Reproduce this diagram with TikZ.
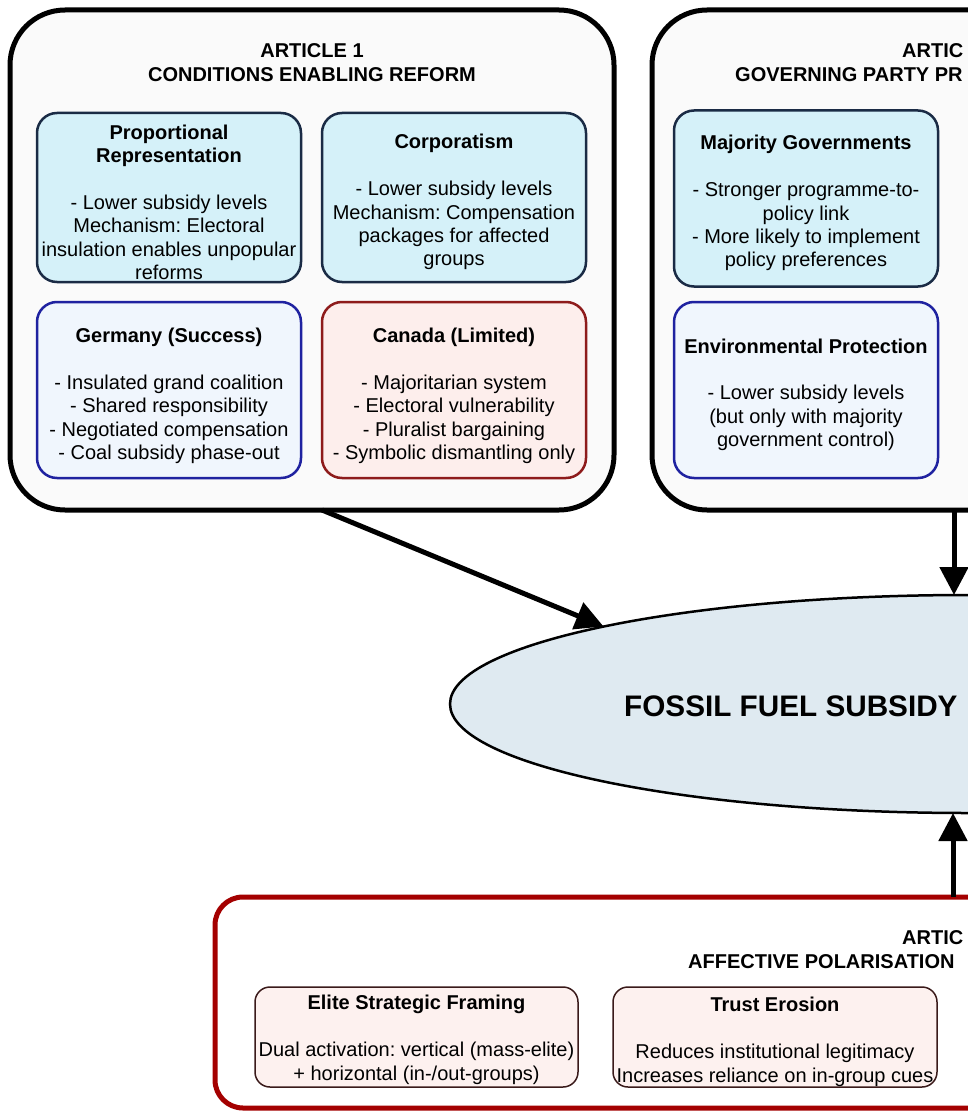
\documentclass[tikz,border=0pt]{standalone}
\usepackage{fontspec}
\setmainfont{Liberation Sans}
\usetikzlibrary{arrows.meta,shapes.geometric}

\definecolor{outerfill}{HTML}{FAFAFA}
\definecolor{cyanfill}{HTML}{D5F1F9}
\definecolor{navy}{HTML}{1A2B45}
\definecolor{bluefill}{HTML}{F0F6FD}
\definecolor{blueline}{HTML}{1F22A0}
\definecolor{redfill}{HTML}{FDEEEC}
\definecolor{redline}{HTML}{8E1B1B}
\definecolor{ellfill}{HTML}{DFEAF1}
\definecolor{artred}{HTML}{A40000}
\definecolor{pinkfill}{HTML}{FDF1EF}
\definecolor{pinkline}{HTML}{3A1A1A}
\newcommand\tstrut{\rule{0pt}{24pt}}
\frenchspacing

\begin{document}
\begin{tikzpicture}[x=1pt,y=-1pt,
  body/.style={font=\frenchspacing\fontsize{20}{23.4}\selectfont, align=center},
  ttl/.style={font=\bfseries\fontsize{20}{24}\selectfont, align=center, inner sep=0pt},
  outerbox/.style={draw=black, line width=5pt, fill=outerfill, rounded corners=55pt, inner sep=0pt, outer sep=0pt},
  inbox/.style={body, line width=2.5pt, rounded corners=20pt, minimum width=264pt, inner sep=0pt, outer sep=0pt},
  cbox/.style={inbox, draw=navy, fill=cyanfill},
  bbox/.style={inbox, draw=blueline, fill=bluefill},
  rbox/.style={inbox, draw=redline, fill=redfill},
  pbox/.style={body, draw=pinkline, fill=pinkfill, line width=1.5pt, rounded corners=15pt, minimum height=100pt, inner sep=0pt, outer sep=0pt},
  arr/.style={line width=5pt, -{Triangle[length=28pt,width=28pt]}}
]
\useasboundingbox (0,0) rectangle (968,1113);
\clip (0,0) rectangle (968,1113);
\fill[white] (0,0) rectangle (968,1113);

% Article 1
\node[outerbox, minimum width=604pt, minimum height=500pt] (a1) at (312,260) {};
\node[ttl] (a1t) at (312,63) {ARTICLE 1\\CONDITIONS ENABLING REFORM};
\node[cbox, minimum height=169pt] (pr) at (169,197.5) {\tstrut\textbf{Proportional}\\\textbf{Representation}\\[23.4pt]- Lower subsidy levels\\Mechanism: Electoral\\insulation enables unpopular\\reforms};
\node[cbox, minimum height=169pt] (corp) at (454,197.5) {\tstrut\textbf{Corporatism}\\[23.4pt]- Lower subsidy levels\\Mechanism: Compensation\\packages for affected\\groups};
\node[bbox, minimum height=176pt] (ger) at (169,390) {\rule{0pt}{26pt}\textbf{Germany (Success)}\\[23.4pt]- Insulated grand coalition\\- Shared responsibility\\- Negotiated compensation\\- Coal subsidy phase-out};
\node[rbox, minimum height=176pt] (can) at (454,390) {\rule{0pt}{26pt}\textbf{Canada (Limited)}\\[23.4pt]- Majoritarian system\\- Electoral vulnerability\\- Pluralist bargaining\\- Symbolic dismantling only};

% Article 2
\node[outerbox, minimum width=604pt, minimum height=500pt] (a2) at (954,260) {};
\node[ttl, anchor=west] (a2t1) at (902,51) {ARTIC};
\node[ttl, anchor=west] (a2t2) at (735,75) {GOVERNING PARTY PR};
\node[cbox, minimum height=176pt] (maj) at (806,198.5) {\tstrut\textbf{Majority Governments}\\[23.4pt]- Stronger programme-to-\\policy link\\- More likely to implement\\policy preferences};
\node[bbox, minimum height=176pt] (env) at (806,390) {\tstrut\textbf{Environmental Protection}\\[23.4pt]- Lower subsidy levels\\(but only with majority\\government control)};

% Central ellipse
\node[ellipse, draw=black, line width=2.5pt, fill=ellfill, minimum width=1036pt, minimum height=218pt, inner sep=0pt, outer sep=0pt] (ell) at (968,704) {};
\node[font=\bfseries\fontsize{29.7}{34}\selectfont, anchor=west, inner sep=0pt] (ellt) at (624,706) {FOSSIL FUEL SUBSIDY};

% Article 3
\node[draw=artred, line width=5pt, fill=white, rounded corners=28pt, minimum width=1476pt, minimum height=211pt, inner sep=0pt, outer sep=0pt] (a3) at (953,1002.5) {};
\node[ttl, anchor=west] (a3t1) at (902,938) {ARTIC};
\node[ttl, anchor=west] (a3t2) at (688,962) {AFFECTIVE POLARISATION};
\node[pbox, minimum width=323pt] (elite) at (416.5,1037) {\rule{0pt}{20pt}\textbf{Elite Strategic Framing}\\[23.4pt]Dual activation: vertical (mass-elite)\\+ horizontal (in-/out-groups)};
\node[pbox, minimum width=324pt] (trust) at (775,1037) {\tstrut\textbf{Trust Erosion}\\[23.4pt]Reduces institutional legitimacy\\Increases reliance on in-group cues};

% Arrows
\draw[arr] ([xshift=10pt]a1.south) -- (ell.168.4);
\draw[arr] (a2.south) -- (a2.south |- ell.north);
\draw[arr] (a3.north) -- (a3.north |- ell.south);
\end{tikzpicture}
\end{document}
